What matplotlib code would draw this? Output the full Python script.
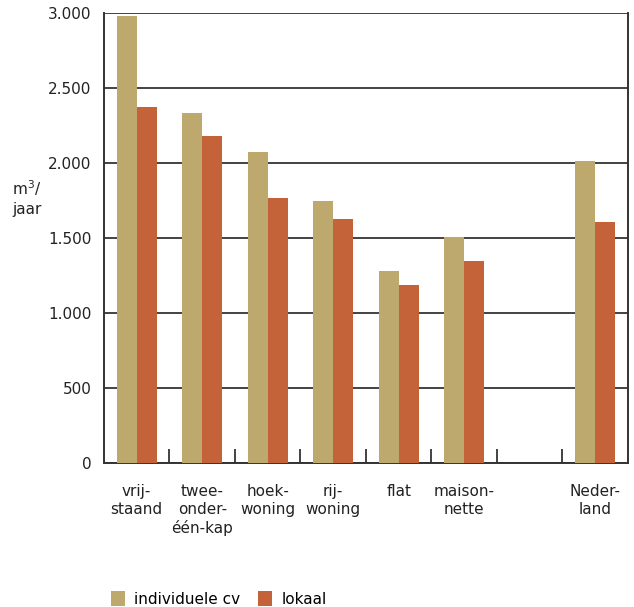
import matplotlib
matplotlib.use("Agg")
import matplotlib.pyplot as plt
import numpy as np
from matplotlib.patches import Patch
from matplotlib.ticker import FuncFormatter

# Gas consumption per dwelling type (m3 per year)
categories = ["vrij-\nstaand", "twee-\nonder-\néén-kap", "hoek-\nwoning", "rij-\nwoning",
              "flat", "maison-\nnette", "", "Neder-\nland"]
individuele_cv = [2980, 2330, 2070, 1750, 1280, 1505, np.nan, 2010]
lokaal = [2370, 2180, 1770, 1625, 1185, 1345, np.nan, 1605]
series_labels = ["individuele cv", "lokaal"]
y_ticks = [0, 500, 1000, 1500, 2000, 2500, 3000]

GOLD = "#bda96d"
RUST = "#c4623a"

plt.rcParams["font.family"] = ["DejaVu Sans"]
plt.rcParams["font.size"] = 11

fig = plt.figure(figsize=(6.34, 6.07), dpi=100)
ax = fig.add_axes([0.164, 0.2372, 0.8265, 0.7414])

x = np.arange(len(categories))
w = 0.305
ax.bar(x - w / 2, individuele_cv, width=w, color=GOLD, zorder=3)
ax.bar(x + w / 2, lokaal, width=w, color=RUST, zorder=3)

ax.set_xlim(-0.5, len(categories) - 0.5)
ax.set_ylim(0, 3000)
ax.set_yticks(y_ticks)
ax.yaxis.set_major_formatter(FuncFormatter(lambda v, p: f"{int(v):,}".replace(",", ".")))
ax.tick_params(axis="y", length=0, pad=9, labelsize=11, colors="#222222")
ax.set_axisbelow(True)
ax.grid(axis="y", color="#222222", linewidth=1.2)

ax.set_xticks(x)
ax.set_xticklabels(categories, fontsize=11, linespacing=1.25, color="#222222")
ax.tick_params(axis="x", which="major", length=0, pad=15)
ax.set_xticks(np.arange(0.5, len(categories) - 1, 1.0), minor=True)
ax.tick_params(axis="x", which="minor", direction="in", length=10, width=1.2, color="#222222")

ax.spines["top"].set_visible(False)
for s in ("left", "right", "bottom"):
    ax.spines[s].set_color("#333333")
    ax.spines[s].set_linewidth(1.4)

fig.text(0.019, 0.674, "m$^3$/\njaar", fontsize=11, color="#222222",
         ha="left", va="center", linespacing=1.3)

handles = [Patch(facecolor=GOLD), Patch(facecolor=RUST)]
fig.legend(handles, series_labels, loc="upper left", bbox_to_anchor=(0.175, 0.027),
           ncol=2, frameon=False, fontsize=11, handlelength=0.9, handleheight=1.2,
           handletextpad=0.6, columnspacing=1.2, borderaxespad=0, borderpad=0)

fig.savefig("out.png", dpi=100)
